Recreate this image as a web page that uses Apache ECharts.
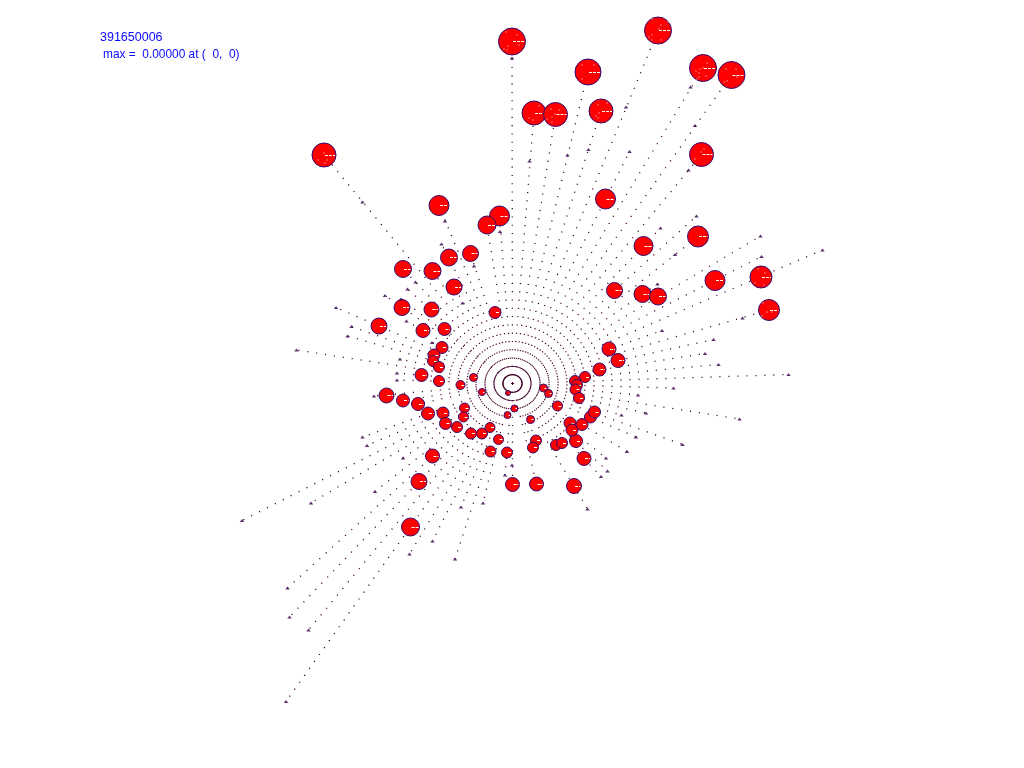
<!DOCTYPE html>
<html>
<head>
<meta charset="utf-8">
<style>html,body{margin:0;padding:0;background:#fff}#c{width:1024px;height:768px}</style>
<script src="https://cdn.jsdelivr.net/npm/echarts@6/dist/echarts.min.js"></script>
</head>
<body>
<div id="c"></div>
<script>
var origin = [512.5, 383.5];
var circleX = [512,588,534,555.5,601,658,703,731.5,324,439,499.5,487,403,432.5,449,470.5,454,
  701.5,605.5,643.5,698,614.5,642.5,658,715,761,769,
  402,431.5,379,423,444.5,495,442,434,433,439,421.5,439,473.5,460.5,482,386.5,403,418,428,443,464.5,463.5,445.5,457,471,482,490,498.5,432.5,490.5,
  507,419,410.5,512.5,536.5,574,584,576,556,562,536,533,530.5,514.5,507.5,557.5,570,572,582,590.5,594.5,
  609,618,599.5,585,575,577,575.5,579,543.5,548.5,508];
var circleY = [41.5,72,113,114.5,111,30.5,68,75,155,205.5,216,225,269,271,257.5,253.5,287,
  154.5,199,246,236.5,290.5,294,296.5,280.5,277,310,
  307.5,309.5,326,330.5,329,312.5,347.5,355,361,367,375,381,377.5,385,392,395.5,400.5,404,413.5,413,408,417,423.5,427,433.5,433.5,427.5,439.5,456,451.5,
  452.5,481.5,527,484.5,484,486,458.5,441,445,443,440.5,447.5,419.5,408.5,415,406,423,430,424.5,417,412,
  349,360.5,369.5,377,381,385,389.5,398,388,393.5,393];
var circleR = [13.5,13,12,12,12,13.5,13.5,13.5,12,10,10,9,8.5,8.5,8.5,8,8,
  12,10,9.5,10.5,8,8.5,8.5,10,11,10.5,
  8,7.5,8,7,6.5,6,6,6,5.5,5.5,6.5,5.5,4,4.5,3.5,7.5,6.5,6.5,6.5,6,5,5,6,5.5,5.5,5.5,5,5,7,5.5,
  5.5,8,9,7,7,7.5,7,6.5,5.5,5.5,5.5,5.5,4,3.5,3.5,5,6,6,6,6,6,
  7,7,6.5,5.5,5.5,5.5,5.5,5.5,4,4,2.5];
var tipX = [512,626,690.5,695,362.5,445,500,441.5,474,415.5,407.5,385,401,
  529.5,567.5,588.5,629.5,688.5,696.5,660.5,760.5,822.5,761.5,675,657.5,742.5,662,713.5,
  336,351.5,347.5,296.5,406.5,462.5,400,397,397,374,362.5,367,432,
  705,718.5,788.5,673.5,739.5,638,621.5,646,636,682.5,627,606,607.5,601,587.5,
  375,403,505,512,461,483,432.5,409.5,455,
  242,311,287.5,289.5,308.5,286];
var tipY = [58,107,87,125.5,202,221,231.5,244,266,282,289,295.5,299,
  161,155,149.5,151.5,170,216,228,236,250,256.5,254.5,284,318,330.5,339.5,
  307.5,326.5,336,350,321,303,359,373,380,396,437,445.5,342.5,
  353.5,364.5,374.5,388,419,395,415,413,437,444.5,451.5,458,471,476.5,509,
  491.5,458,475,465,507,503,541,554,559,
  520.5,503,588,617,630,701.5];
var speckX = [506,517,508,504,507,519,582,594,582,539,529,533,551,559,555,552,547,552,598,607,599,596,598,
  652,668,661,659,652,649,652,661,707,703,700,696,699,699,706,697,726,736,737,727,724,
  324,318,327,325,701,704,695,758,765,755,764,763,772,762,767];
var speckY = [32,35,46,49,50,45,65,65,79,106,118,120,109,110,114,117,119,122,105,103,113,116,118,
  19,22,25,29,35,37,40,40,63,68,69,71,73,77,76,79,69,69,77,81,82,
  153,160,160,163,152,149,159,269,273,283,285,303,312,316,312];
var titleLines = ['391650006', 'max =  0.00000 at (  0,  0)'];

var ringA = 9, ringB = 8.3;           // dot spacing along x and y axes
var minSeparation = 1.5 * Math.PI / 180;

function polar(p) {
  var dx = p[0] - origin[0], dy = p[1] - origin[1];
  return {p: p, len: Math.sqrt(dx * dx + dy * dy), ang: Math.atan2(dy, dx)};
}
var candidates = [];
circleX.forEach(function (x, i) { candidates.push(polar([x, circleY[i]])); });
tipX.forEach(function (x, i) { candidates.push(polar([x, tipY[i]])); });
candidates.sort(function (a, b) { return b.len - a.len; });
var kept = [];
candidates.forEach(function (c) {
  var clash = kept.some(function (k) {
    var d = Math.abs(k.ang - c.ang);
    if (d > Math.PI) d = 2 * Math.PI - d;
    return d < minSeparation;
  });
  if (!clash) kept.push(c);
});
var spokeRows = kept.map(function (k) { return k.p; });
var circleRows = circleX.map(function (x, i) { return [x, circleY[i], circleR[i]]; });
var tipRows = tipX.map(function (x, i) { return [x, tipY[i]]; });
var speckRows = speckX.map(function (x, i) { return [x, speckY[i]]; });

var chart = echarts.init(document.getElementById('c'), null, {renderer: 'canvas'});
chart.setOption({
  animation: false,
  backgroundColor: '#fff',
  title: [
    {text: titleLines[0], left: 100, top: 31, padding: 0,
     textStyle: {color: '#0a0aff', fontSize: 12.5, fontWeight: 'normal', fontFamily: 'Liberation Sans'}},
    {text: titleLines[1], left: 103, top: 49, padding: 0,
     textStyle: {color: '#0a0aff', fontSize: 11.9, fontWeight: 'normal', fontFamily: 'Liberation Sans'}}
  ],
  grid: {left: 0, right: 0, top: 0, bottom: 0},
  xAxis: {type: 'value', min: 0, max: 1024, show: false},
  yAxis: {type: 'value', min: 0, max: 768, inverse: true, show: false},
  series: [
    {
      type: 'custom', silent: true, clip: false, data: spokeRows,
      renderItem: function (params, api) {
        var a = api.coord(origin), b = api.coord([api.value(0), api.value(1)]);
        var dx = b[0] - a[0], dy = b[1] - a[1], len = Math.sqrt(dx * dx + dy * dy) || 1;
        var c = dx / len / ringA, s = dy / len / ringB;
        var period = 1 / Math.sqrt(c * c + s * s);
        var ux = dx / len, uy = dy / len;
        return {
          type: 'line',
          shape: {x1: a[0] + ux * period, y1: a[1] + uy * period, x2: b[0], y2: b[1]},
          style: {stroke: '#400028', lineWidth: 1.3, lineDash: [1.1, period - 1.1], fill: null}
        };
      }
    },
    {
      type: 'custom', silent: true, clip: false, data: [origin],
      renderItem: function (params, api) {
        var p = api.coord([api.value(0), api.value(1)]);
        return {
          type: 'group',
          children: [
            {type: 'line', shape: {x1: p[0] - 1.5, y1: p[1], x2: p[0] + 1.5, y2: p[1]},
             style: {stroke: '#400028', lineWidth: 1, fill: null}},
            {type: 'line', shape: {x1: p[0], y1: p[1] - 1.5, x2: p[0], y2: p[1] + 1.5},
             style: {stroke: '#400028', lineWidth: 1, fill: null}}
          ]
        };
      }
    },
    {
      type: 'custom', silent: true, clip: false, data: circleRows,
      renderItem: function (params, api) {
        var p = api.coord([api.value(0), api.value(1)]);
        var r = api.size([api.value(2), 0])[0];
        return {
          type: 'group',
          children: [
            {type: 'circle', shape: {cx: p[0], cy: p[1], r: r},
             style: {fill: '#ff0000', stroke: '#330a70', lineWidth: 1}},
            {type: 'line', shape: {x1: p[0] + 1, y1: Math.floor(p[1]) + 0.5, x2: p[0] + r - 1, y2: Math.floor(p[1]) + 0.5},
             style: {stroke: '#ffffff', lineWidth: 1, lineDash: [3, 1], fill: null}}
          ]
        };
      }
    },
    {
      type: 'scatter', silent: true, clip: false, data: speckRows,
      symbol: 'rect', symbolSize: 1.2,
      itemStyle: {color: '#ffffff'}
    },
    {
      type: 'scatter', silent: true, clip: false, data: tipRows,
      symbol: 'triangle', symbolSize: [4.5, 3],
      itemStyle: {color: '#33004a'}
    }
  ]
});
</script>
</body>
</html>
